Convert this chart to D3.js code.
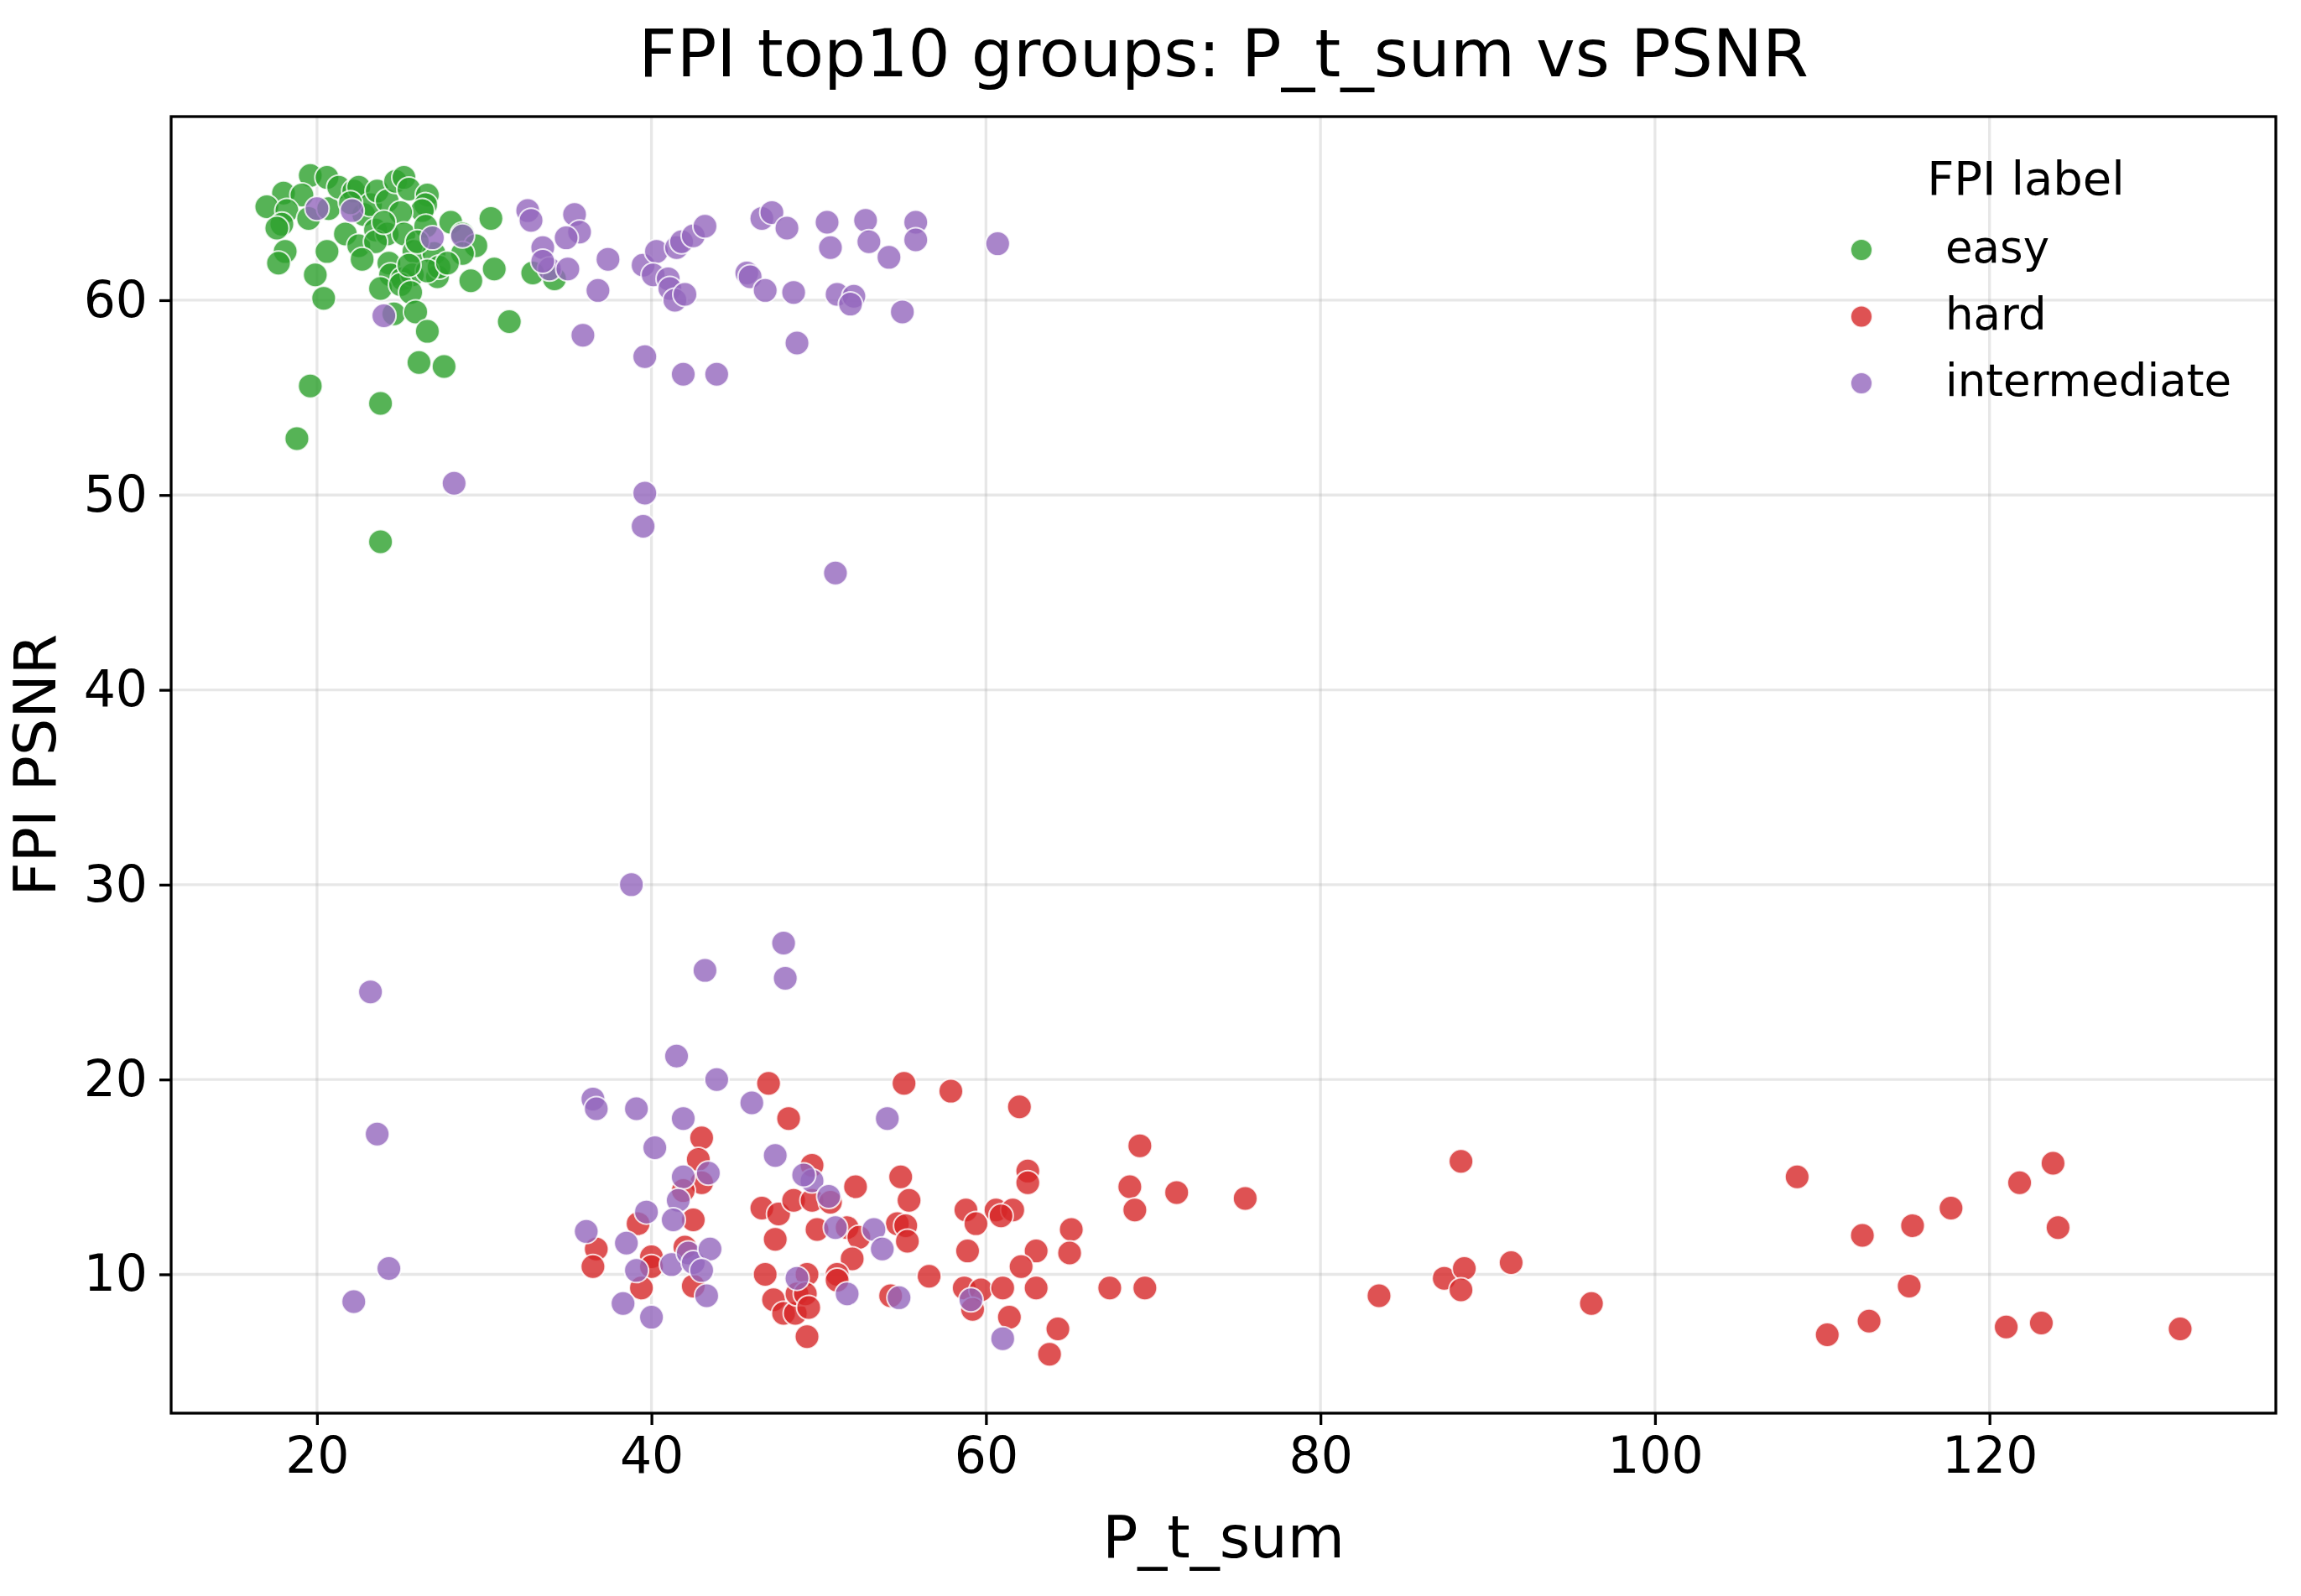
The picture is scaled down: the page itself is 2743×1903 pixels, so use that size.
<!DOCTYPE html>
<html>
<head>
<meta charset="utf-8">
<script src="https://cdn.jsdelivr.net/npm/d3@7"></script>
<style>
  body { margin: 0; background: #fff; }
  svg { display: block; font-family: "DejaVu Sans", sans-serif; }
</style>
</head>
<body>
<div id="chart"></div>
<script>
// categories in legend order
const labels = ['easy', 'hard', 'intermediate'];
const colors = ['#2ca02c', '#d62728', '#9467bd'];

// [P_t_sum, PSNR]
const easyPts = [
  [19.6,66.4],[20.6,66.3],[18.0,65.5],[19.1,65.4],[17.0,64.8],[18.2,64.6],[17.9,63.9],[17.6,63.7],
  [19.5,64.2],[20.7,64.7],[21.3,65.8],[22.2,65.6],[22.5,65.8],[22.8,64.4],[23.2,64.9],[23.6,65.6],
  [24.2,65.1],[24.7,66.1],[25.2,66.3],[25.5,65.7],[26.6,65.4],[26.5,64.9],[26.3,64.6],[25.0,64.5],
  [21.7,63.4],[22.5,62.8],[23.5,63.6],[24.2,63.4],[25.2,63.4],[25.8,62.5],[26.5,63.8],[28.0,64.0],
  [28.7,63.4],[29.5,62.8],[28.7,62.4],[27.0,62.4],[23.5,63.0],[22.7,62.1],[20.6,62.5],[18.1,62.5],
  [17.7,61.9],[19.9,61.3],[20.4,60.1],[24.3,61.9],[24.4,61.3],[25.1,61.1],[25.7,61.3],[23.8,60.6],
  [25.0,60.8],[25.6,60.4],[27.2,61.2],[27.3,61.7],[26.6,61.5],[29.2,61.0],[30.6,61.6],[30.4,64.2],
  [32.9,61.4],[34.2,61.1],[24.6,59.3],[25.9,59.4],[26.6,58.4],[31.5,58.9],[26.1,56.8],[27.6,56.6],
  [19.6,55.6],[23.8,54.7],[18.8,52.9],[23.8,47.6],[27.8,61.9],[25.5,61.8],[22.0,65.0],[24.0,64.0],
  [26.0,63.0]
];

const hardPts = [
  [47.0,19.8],[55.1,19.8],[48.2,18.0],[43.0,17.0],[42.8,15.9],[43.0,14.7],[41.9,14.3],[42.5,12.8],
  [39.2,12.6],[36.7,11.3],[36.5,10.4],[40.0,10.9],[40.0,10.4],[42.0,11.4],[39.4,9.3],[42.5,9.4],
  [46.6,13.4],[47.6,13.1],[48.5,13.8],[49.6,15.6],[49.6,13.8],[50.7,13.7],[52.2,14.5],[54.9,15.0],
  [55.4,13.8],[47.4,11.8],[49.9,12.3],[51.7,12.4],[52.4,11.9],[54.7,12.6],[55.2,12.5],[55.3,11.7],
  [52.0,10.8],[46.8,10.0],[49.3,10.0],[51.1,10.0],[51.1,9.7],[47.3,8.7],[47.9,8.0],[48.6,8.0],
  [48.7,9.0],[49.2,9.0],[49.4,8.3],[49.3,6.8],[54.3,8.9],[56.6,9.9],
  [57.9,19.4],[62.0,18.6],[69.2,16.6],[62.5,15.3],[62.5,14.7],[68.6,14.5],[71.4,14.2],[75.5,13.9],
  [68.9,13.3],[58.8,13.3],[59.4,12.6],[60.6,13.3],[61.6,13.3],[60.9,13.0],[65.1,12.3],[65.0,11.1],
  [58.9,11.2],[63.0,11.2],[62.1,10.4],[58.7,9.3],[59.7,9.2],[61.0,9.3],[63.0,9.3],[67.4,9.3],
  [69.5,9.3],[59.2,8.2],[61.4,7.8],[64.3,7.2],[63.8,5.9],
  [88.4,15.8],[87.4,9.8],[88.6,10.3],[88.4,9.2],[91.4,10.6],[83.5,8.9],[96.2,8.5],[108.5,15.0],
  [112.4,12.0],[115.4,12.5],[117.7,13.4],[115.2,9.4],[112.8,7.6],[110.3,6.9],[121.8,14.7],[123.8,15.7],
  [124.1,12.4],[121.0,7.3],[123.1,7.5],[131.4,7.2]
];

const interPts = [
  [20.0,64.7],[22.1,64.6],[26.9,63.2],[28.7,63.3],[24.0,59.2],[32.6,64.6],[32.8,64.1],[35.4,64.4],
  [35.7,63.5],[34.9,63.2],[33.5,62.7],[33.9,61.6],[35.0,61.6],[33.5,62.0],[37.4,62.1],[36.8,60.5],
  [35.9,58.2],[39.5,61.8],[40.3,62.5],[41.5,62.7],[41.8,63.0],[42.5,63.3],[43.2,63.8],[40.1,61.3],
  [41.0,61.1],[41.1,60.6],[41.4,60.0],[42.0,60.3],[39.6,57.1],[41.9,56.2],[43.9,56.2],[46.6,64.2],
  [47.2,64.5],[48.1,63.7],[45.7,61.4],[45.9,61.2],[46.8,60.5],[48.5,60.4],[48.7,57.8],[50.5,64.0],
  [50.7,62.7],[52.8,64.1],[53.0,63.0],[54.2,62.2],[55.8,64.0],[55.8,63.1],[51.1,60.3],[52.1,60.2],
  [51.9,59.8],[55.0,59.4],[60.7,62.9],
  [28.2,50.6],[39.6,50.1],[39.5,48.4],[51.0,46.0],
  [38.8,30.0],[43.2,25.6],[47.9,27.0],[48.0,25.2],[23.2,24.5],[23.6,17.2],[24.3,10.3],[22.2,8.6],
  [41.5,21.2],[43.9,20.0],[36.5,19.0],[36.7,18.5],[39.1,18.5],[41.9,18.0],[46.0,18.8],[54.1,18.0],
  [40.2,16.5],[47.4,16.1],[41.9,15.0],[43.4,15.2],[41.6,13.8],[39.7,13.2],[41.3,12.8],[36.1,12.2],
  [38.5,11.6],[39.1,10.2],[41.2,10.5],[42.2,11.1],[42.5,10.6],[43.5,11.3],[43.0,10.2],[43.3,8.9],
  [38.3,8.5],[40.0,7.8],[49.6,14.8],[49.1,15.1],[50.6,14.0],[51.0,12.4],[53.3,12.3],[53.8,11.3],
  [48.7,9.8],[51.7,9.0],[54.8,8.8],[59.1,8.7],[61.0,6.7]
];

const xTicks = [20, 40, 60, 80, 100, 120];
const yTicks = [10, 20, 30, 40, 50, 60];

const W = 2743, H = 1903;
const margin = { top: 139, right: 30, bottom: 218, left: 204 };
const width = W - margin.left - margin.right;
const height = H - margin.top - margin.bottom;
const R = 14.5;

const series = [easyPts, hardPts, interPts];
const all = series.flat();

// matplotlib style 5% padding
const pad = (ext) => { const r = ext[1] - ext[0]; return [ext[0] - r * 0.05, ext[1] + r * 0.05]; };

const x = d3.scaleLinear().domain(pad(d3.extent(all, d => d[0]))).range([0, width]);
const y = d3.scaleLinear().domain(pad(d3.extent(all, d => d[1]))).range([height, 0]);

const svg = d3.select('#chart').append('svg')
  .attr('width', W)
  .attr('height', H);

const g = svg.append('g')
  .attr('transform', `translate(${margin.left},${margin.top})`);

// grid
g.append('g')
  .selectAll('line')
  .data(xTicks)
  .enter().append('line')
  .attr('x1', d => x(d)).attr('x2', d => x(d))
  .attr('y1', 0).attr('y2', height)
  .attr('stroke', '#b0b0b0').attr('stroke-opacity', 0.3).attr('stroke-width', 3.3);

g.append('g')
  .selectAll('line')
  .data(yTicks)
  .enter().append('line')
  .attr('x1', 0).attr('x2', width)
  .attr('y1', d => y(d)).attr('y2', d => y(d))
  .attr('stroke', '#b0b0b0').attr('stroke-opacity', 0.3).attr('stroke-width', 3.3);

// points
series.forEach((pts, i) => {
  g.append('g')
    .selectAll('circle')
    .data(pts)
    .enter().append('circle')
    .attr('cx', d => x(d[0]))
    .attr('cy', d => y(d[1]))
    .attr('r', R)
    .attr('fill', colors[i])
    .attr('fill-opacity', 0.8)
    .attr('stroke', '#fff')
    .attr('stroke-opacity', 0.8)
    .attr('stroke-width', 2);
});

// axes
const xAxis = g.append('g')
  .attr('transform', `translate(0,${height})`)
  .call(d3.axisBottom(x).tickValues(xTicks).tickSize(14).tickPadding(14));
xAxis.selectAll('text').style('font-size', '60px').attr('fill', '#000');

const yAxis = g.append('g')
  .call(d3.axisLeft(y).tickValues(yTicks).tickSize(14).tickPadding(14));
yAxis.selectAll('text').style('font-size', '60px').attr('fill', '#000');

[xAxis, yAxis].forEach(a => {
  a.select('.domain').remove();
  a.selectAll('.tick line').attr('stroke', '#000').attr('stroke-width', 3.3);
  a.style('font-family', '"DejaVu Sans", sans-serif');
});

// frame
g.append('rect')
  .attr('width', width).attr('height', height)
  .attr('fill', 'none').attr('stroke', '#000').attr('stroke-width', 3.3);

// title and labels
svg.append('text')
  .attr('x', margin.left + width / 2)
  .attr('y', 91)
  .attr('text-anchor', 'middle')
  .style('font-size', '79px')
  .text('FPI top10 groups: P_t_sum vs PSNR');

svg.append('text')
  .attr('x', margin.left + width / 2)
  .attr('y', 1857)
  .attr('text-anchor', 'middle')
  .style('font-size', '70px')
  .text('P_t_sum');

svg.append('text')
  .attr('transform', `translate(66,${margin.top + height / 2}) rotate(-90)`)
  .attr('text-anchor', 'middle')
  .style('font-size', '70px')
  .text('FPI PSNR');

// legend
const legend = svg.append('g');
legend.append('text')
  .attr('x', 2415).attr('y', 232)
  .attr('text-anchor', 'middle')
  .style('font-size', '56px')
  .text('FPI label');

labels.forEach((lab, i) => {
  const cy = 298 + i * 79.5;
  legend.append('circle')
    .attr('cx', 2219).attr('cy', cy).attr('r', 13)
    .attr('fill', colors[i]).attr('fill-opacity', 0.8)
    .attr('stroke', '#fff').attr('stroke-opacity', 0.8).attr('stroke-width', 2);
  legend.append('text')
    .attr('x', 2319).attr('y', cy + 15)
    .style('font-size', '53px')
    .text(lab);
});
</script>
</body>
</html>
